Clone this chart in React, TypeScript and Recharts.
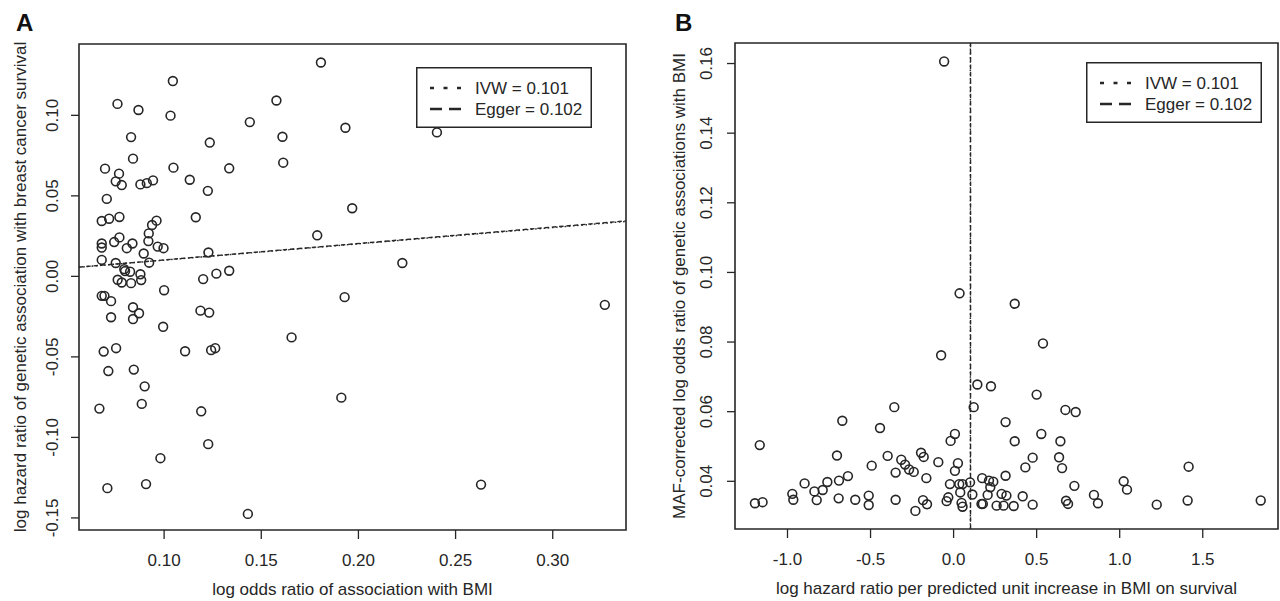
import React from 'react';
import { ScatterChart, Scatter, XAxis, YAxis, ReferenceArea, ReferenceLine, Legend } from 'recharts';

const FONT = "'Liberation Sans', Arial, Helvetica, sans-serif";
const INK = '#262626';
const FS = 17;

// ---------- Panel A data ----------
const A_X = [
  0.1045, 0.0760, 0.0868, 0.1033, 0.1578, 0.1441, 0.1609, 0.0830, 0.1235, 0.0840,
  0.1613, 0.0696, 0.0768, 0.1048, 0.1335, 0.0751, 0.0782, 0.0878, 0.0911, 0.0943,
  0.1132, 0.1225, 0.0705, 0.0679, 0.0717, 0.0770, 0.1163, 0.0961, 0.0938, 0.0921,
  0.0679, 0.0679, 0.0743, 0.0770, 0.0808, 0.0837, 0.0919, 0.0967, 0.0997, 0.0895,
  0.1228, 0.0679, 0.0751, 0.0923, 0.0799, 0.0825, 0.0795, 0.0878, 0.0761, 0.0782,
  0.0830, 0.0882, 0.1201, 0.1269, 0.1335, 0.1000,
  0.1807, 0.1933, 0.2404, 0.1968, 0.1788, 0.2226, 0.1929,
  0.0679, 0.0693, 0.0727, 0.0840, 0.0871, 0.0727, 0.0840, 0.0995, 0.1187, 0.1232,
  0.1656, 0.0689, 0.0753, 0.1108, 0.1242, 0.1263, 0.0713, 0.0844, 0.0900, 0.0667,
  0.0885, 0.1191, 0.1227, 0.0981, 0.0708, 0.0907, 0.1431,
  0.1912, 0.2631, 0.3268,
];
const A_Y = [
  0.1213, 0.1071, 0.1033, 0.0998, 0.1092, 0.0958, 0.0867, 0.0865, 0.0831, 0.0731,
  0.0706, 0.0669, 0.0638, 0.0675, 0.0671, 0.0590, 0.0567, 0.0571, 0.0579, 0.0596,
  0.0600, 0.0531, 0.0481, 0.0344, 0.0358, 0.0369, 0.0367, 0.0346, 0.0319, 0.0267,
  0.0204, 0.0179, 0.0213, 0.0242, 0.0175, 0.0204, 0.0219, 0.0185, 0.0175, 0.0142,
  0.0148, 0.0102, 0.0083, 0.0085, 0.0033, 0.0029, 0.0045, 0.0013, -0.0021, -0.0038,
  -0.0042, -0.0023, -0.0017, 0.0017, 0.0035, -0.0086,
  0.1328, 0.0923, 0.0894, 0.0423, 0.0255, 0.0083, -0.0129,
  -0.0121, -0.0121, -0.0154, -0.0192, -0.0229, -0.0254, -0.0265, -0.0313, -0.0213, -0.0225,
  -0.0379, -0.0467, -0.0446, -0.0465, -0.0458, -0.0446, -0.0588, -0.0579, -0.0683, -0.0821,
  -0.0792, -0.0838, -0.1042, -0.1129, -0.1315, -0.1290, -0.1475,
  -0.0753, -0.1293, -0.0177,
];

// ---------- Panel B data ----------
const B_X = [
  -1.167, -1.196, -1.150, -0.971, -0.965, -0.897, -0.838, -0.824, -0.788, -0.760,
  -0.690, -0.702, -0.670, -0.636, -0.692, -0.592, -0.511, -0.511, -0.493, -0.443,
  -0.397, -0.357, -0.349, -0.349, -0.315, -0.292, -0.268, -0.240, -0.196, -0.180,
  -0.230, -0.184, -0.160, -0.164, -0.092, -0.018, 0.008, 0.026, 0.008, -0.022,
  0.034, 0.054, 0.040, -0.032, -0.042, 0.048, 0.054, 0.099, 0.113, 0.121,
  0.143, 0.225, 0.168, 0.176, 0.172, 0.213, 0.239, 0.221, 0.205, 0.259,
  0.289, 0.301, 0.313, 0.313, 0.318,
  0.500, 0.673, 0.735, 0.528, 0.368, 0.643, 0.476, 0.635, 0.432, 0.653,
  1.415, 0.727, 1.024, 1.044, 0.845, 0.416, 0.362, 0.476, 0.677, 0.689,
  0.869, 1.223, 1.409, 1.849,
  -0.057, 0.036, 0.368, 0.538, -0.075,
];
const B_Y = [
  0.0504, 0.0337, 0.0340, 0.0364, 0.0347, 0.0394, 0.0371, 0.0346, 0.0375, 0.0398,
  0.0402, 0.0474, 0.0574, 0.0415, 0.0351, 0.0347, 0.0359, 0.0332, 0.0445, 0.0553,
  0.0473, 0.0613, 0.0425, 0.0347, 0.0462, 0.0448, 0.0434, 0.0427, 0.0482, 0.0470,
  0.0315, 0.0346, 0.0334, 0.0409, 0.0455, 0.0516, 0.0536, 0.0452, 0.0430, 0.0392,
  0.0392, 0.0392, 0.0368, 0.0354, 0.0343, 0.0338, 0.0327, 0.0397, 0.0362, 0.0613,
  0.0678, 0.0673, 0.0335, 0.0335, 0.0409, 0.0402, 0.0399, 0.0383, 0.0361, 0.0330,
  0.0364, 0.0330, 0.0570, 0.0416, 0.0359,
  0.0649, 0.0605, 0.0599, 0.0536, 0.0515, 0.0515, 0.0468, 0.0469, 0.0440, 0.0438,
  0.0442, 0.0387, 0.0400, 0.0376, 0.0361, 0.0357, 0.0329, 0.0333, 0.0344, 0.0335,
  0.0337, 0.0333, 0.0345, 0.0345,
  0.1606, 0.0940, 0.0910, 0.0796, 0.0762,
];

// ---------- axes ----------
const A_X_TICKS = [0.1, 0.15, 0.2, 0.25, 0.3];
const A_Y_TICKS = [-0.15, -0.1, -0.05, 0, 0.05, 0.1];
const B_X_TICKS = [-1, -0.5, 0, 0.5, 1, 1.5];
const B_Y_TICKS = [0.04, 0.06, 0.08, 0.1, 0.12, 0.14, 0.16];
const A_X_DOMAIN = [0.0562, 0.3377];
const A_Y_DOMAIN = [-0.1575, 0.1443];
const B_X_DOMAIN = [-1.316, 1.953];
const B_Y_DOMAIN = [0.0263, 0.1659];

// ---------- estimates / legend ----------
const EST_IVW = 0.101;
const EST_EGGER = 0.102;
const LEGEND_LABELS = ['IVW = 0.101', 'Egger = 0.102'];

const A_X_TITLE = 'log odds ratio of association with BMI';
const A_Y_TITLE = 'log hazard ratio of genetic association with breast cancer survival';
const B_X_TITLE = 'log hazard ratio per predicted unit increase in BMI on survival';
const B_Y_TITLE = 'MAF-corrected log odds ratio of genetic associations with BMI';

const aData = A_X.map((x, i) => ({ x, y: A_Y[i] }));
const bData = B_X.map((x, i) => ({ x, y: B_Y[i] }));

const DOT_DASH = '1.6 2.6';
const DASH = '4.5 2.8';

const OpenCircle = (props: any) => {
  const { cx, cy } = props;
  if (cx == null || cy == null) return null;
  return <circle cx={cx} cy={cy} r={4.4} fill="none" stroke={INK} strokeWidth={1.6} />;
};

const makeRotTick = (fmt: (v: number) => string) => (props: any) => {
  const { x, y, payload } = props;
  return (
    <text
      x={x}
      y={y}
      transform={`rotate(-90 ${x} ${y})`}
      textAnchor="middle"
      fontSize={FS}
      fontFamily={FONT}
      fill={INK}
    >
      {fmt(payload.value)}
    </text>
  );
};

const makeXTitle = (title: string) => (props: any) => {
  const vb = props.viewBox || {};
  return (
    <text
      x={vb.x + vb.width / 2}
      y={vb.y + 65}
      textAnchor="middle"
      fontSize={FS}
      fontFamily={FONT}
      fill={INK}
    >
      {title}
    </text>
  );
};

const makeYTitle = (title: string, gap: number) => (props: any) => {
  const vb = props.viewBox || {};
  const bx = vb.x + vb.width - gap;
  const cy = vb.y + vb.height / 2;
  return (
    <text
      x={bx}
      y={cy}
      transform={`rotate(-90 ${bx} ${cy})`}
      textAnchor="middle"
      fontSize={FS}
      fontFamily={FONT}
      fill={INK}
    >
      {title}
    </text>
  );
};

const LegendBox = ({ w, h }: { w: number; h: number }) => (
  <svg width={w} height={h} style={{ display: 'block' }}>
    <rect x={0.75} y={0.75} width={w - 1.5} height={h - 1.5} fill="#fff" stroke={INK} strokeWidth={1.5} />
    <line x1={14} x2={45} y1={21} y2={21} stroke={INK} strokeWidth={2.6} strokeDasharray="4 9.5" />
    <text x={59} y={27} fontSize={FS} fontFamily={FONT} fill={INK}>{LEGEND_LABELS[0]}</text>
    <line x1={14} x2={45} y1={42} y2={42} stroke={INK} strokeWidth={2.6} strokeDasharray="12 7" />
    <text x={59} y={48} fontSize={FS} fontFamily={FONT} fill={INK}>{LEGEND_LABELS[1]}</text>
  </svg>
);

const fmt2 = (v: number) => v.toFixed(2);
const fmt1 = (v: number) => v.toFixed(1);

function PanelA() {
  return (
    <ScatterChart
      width={640}
      height={601}
      margin={{ top: 44, right: 14, bottom: 11, left: 19 }}
      style={{ position: 'absolute', left: 0, top: 0 }}
    >
      <XAxis
        type="number"
        dataKey="x"
        domain={A_X_DOMAIN}
        allowDataOverflow
        ticks={A_X_TICKS}
        tickFormatter={fmt2}
        axisLine={false}
        tickLine={{ stroke: INK, strokeWidth: 1.3 }}
        tickSize={9}
        tickMargin={15}
        height={60}
        interval={0}
        tick={{ fontSize: FS, fontFamily: FONT, fill: INK }}
        label={makeXTitle(A_X_TITLE)}
      />
      <YAxis
        type="number"
        dataKey="y"
        domain={A_Y_DOMAIN}
        allowDataOverflow
        ticks={A_Y_TICKS}
        axisLine={false}
        tickLine={{ stroke: INK, strokeWidth: 1.3 }}
        tickSize={8}
        tickMargin={13}
        width={60}
        interval={0}
        tick={makeRotTick(fmt2)}
        label={makeYTitle(A_Y_TITLE, 53)}
      />
      <ReferenceArea
        x1={A_X_DOMAIN[0]}
        x2={A_X_DOMAIN[1]}
        y1={A_Y_DOMAIN[0]}
        y2={A_Y_DOMAIN[1]}
        fill="none"
        fillOpacity={0}
        stroke={INK}
        strokeWidth={1.6}
      />
      <ReferenceLine
        segment={[
          { x: A_X_DOMAIN[0], y: EST_IVW * A_X_DOMAIN[0] },
          { x: A_X_DOMAIN[1], y: EST_IVW * A_X_DOMAIN[1] },
        ]}
        stroke={INK}
        strokeWidth={1.4}
        strokeDasharray={DOT_DASH}
      />
      <ReferenceLine
        segment={[
          { x: A_X_DOMAIN[0], y: EST_EGGER * A_X_DOMAIN[0] },
          { x: A_X_DOMAIN[1], y: EST_EGGER * A_X_DOMAIN[1] },
        ]}
        stroke={INK}
        strokeWidth={1.4}
        strokeDasharray={DASH}
      />
      <Scatter data={aData} shape={OpenCircle} isAnimationActive={false} />
      <Legend
        layout="horizontal"
        verticalAlign="middle"
        align="center"
        wrapperStyle={{ left: 416, top: 67, width: 176, height: 61 }}
        content={() => <LegendBox w={176} h={61} />}
      />
    </ScatterChart>
  );
}

function PanelB() {
  return (
    <ScatterChart
      width={640}
      height={601}
      margin={{ top: 43, right: 2, bottom: 12, left: 35 }}
      style={{ position: 'absolute', left: 640, top: 0 }}
    >
      <XAxis
        type="number"
        dataKey="x"
        domain={B_X_DOMAIN}
        allowDataOverflow
        ticks={B_X_TICKS}
        tickFormatter={fmt1}
        axisLine={false}
        tickLine={{ stroke: INK, strokeWidth: 1.3 }}
        tickSize={9}
        tickMargin={15}
        height={60}
        interval={0}
        tick={{ fontSize: FS, fontFamily: FONT, fill: INK }}
        label={makeXTitle(B_X_TITLE)}
      />
      <YAxis
        type="number"
        dataKey="y"
        domain={B_Y_DOMAIN}
        allowDataOverflow
        ticks={B_Y_TICKS}
        axisLine={false}
        tickLine={{ stroke: INK, strokeWidth: 1.3 }}
        tickSize={8}
        tickMargin={15}
        width={60}
        interval={0}
        tick={makeRotTick(fmt2)}
        label={makeYTitle(B_Y_TITLE, 50)}
      />
      <ReferenceArea
        x1={B_X_DOMAIN[0]}
        x2={B_X_DOMAIN[1]}
        y1={B_Y_DOMAIN[0]}
        y2={B_Y_DOMAIN[1]}
        fill="none"
        fillOpacity={0}
        stroke={INK}
        strokeWidth={1.6}
      />
      <ReferenceLine x={EST_IVW} stroke={INK} strokeWidth={1.4} strokeDasharray={DOT_DASH} />
      <ReferenceLine x={EST_EGGER} stroke={INK} strokeWidth={1.4} strokeDasharray={DASH} />
      <Scatter data={bData} shape={OpenCircle} isAnimationActive={false} />
      <Legend
        layout="horizontal"
        verticalAlign="middle"
        align="center"
        wrapperStyle={{ left: 446, top: 62, width: 176, height: 61 }}
        content={() => <LegendBox w={176} h={61} />}
      />
    </ScatterChart>
  );
}

const panelLabel: React.CSSProperties = {
  position: 'absolute',
  fontFamily: FONT,
  fontWeight: 700,
  fontSize: 24,
  lineHeight: '24px',
  color: '#111',
  top: 11,
};

export default function App() {
  return (
    <div
      style={{
        position: 'absolute',
        left: 0,
        top: 0,
        width: 1280,
        height: 601,
        background: '#fff',
        overflow: 'hidden',
      }}
    >
      <div style={{ ...panelLabel, left: 16 }}>A</div>
      <div style={{ ...panelLabel, left: 675 }}>B</div>
      <PanelA />
      <PanelB />
    </div>
  );
}
